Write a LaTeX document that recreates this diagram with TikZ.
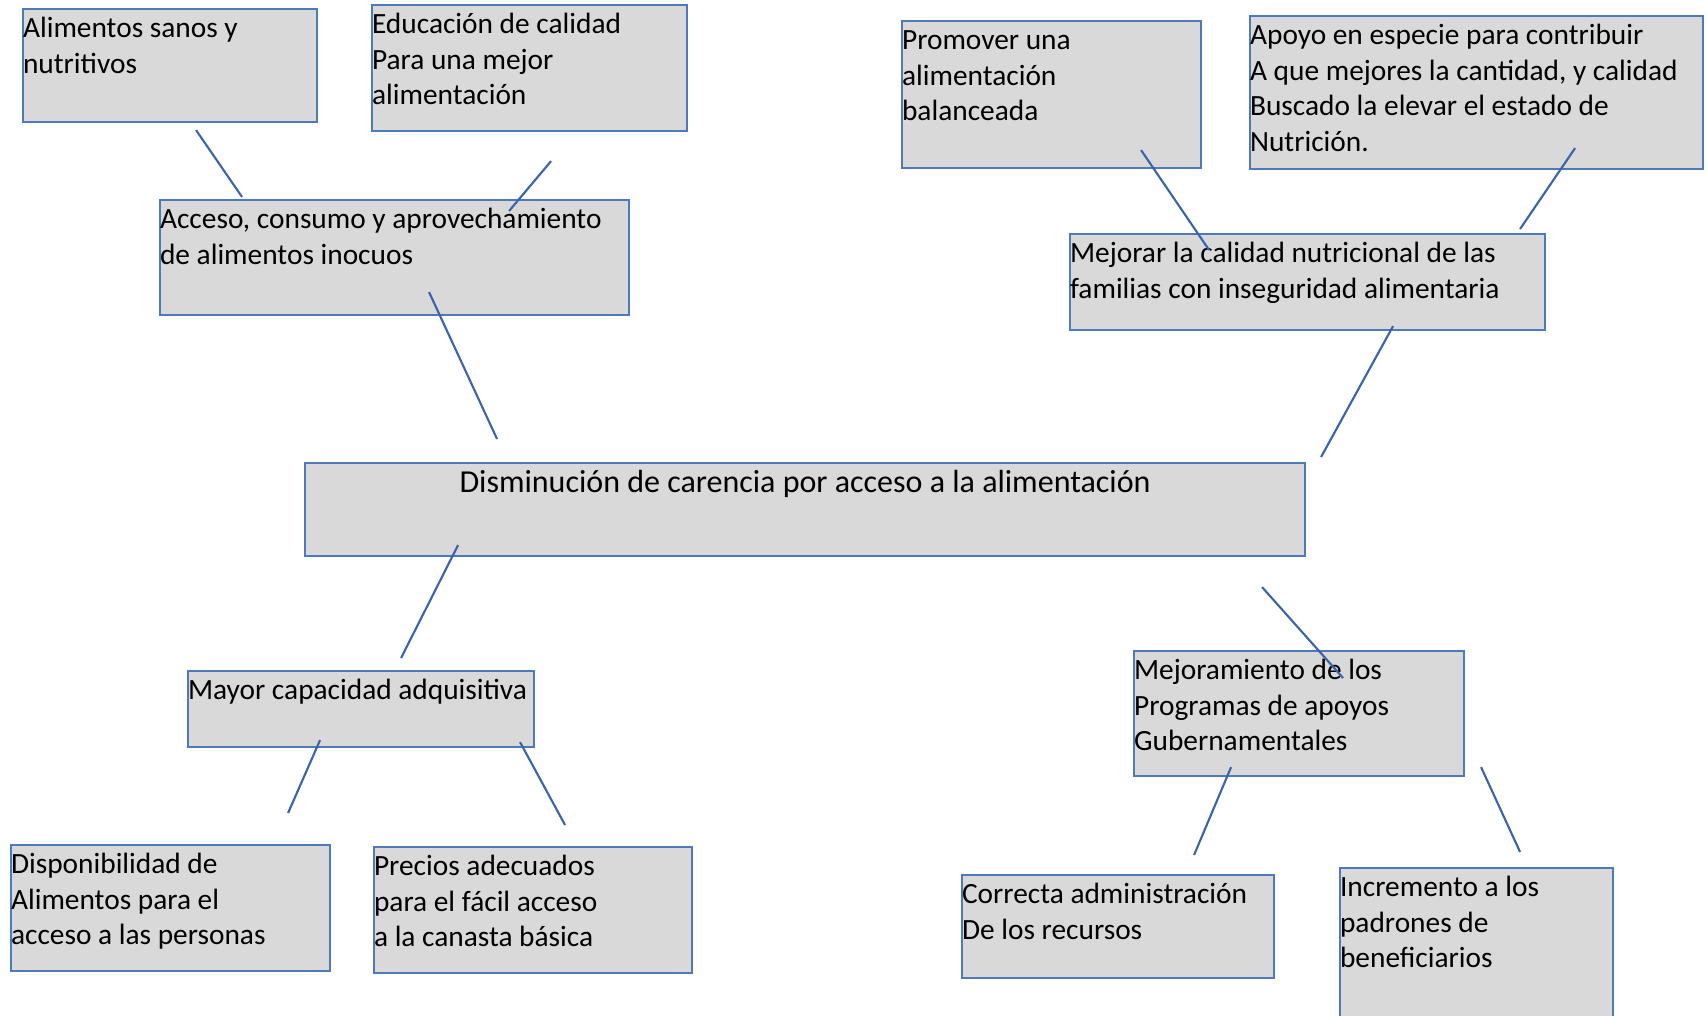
\documentclass[tikz,border=0pt]{standalone}
\usepackage{fontspec}
\setmainfont{Carlito}
\usepackage{xcolor}
\usepackage{tikz}
\usetikzlibrary{calc}

\definecolor{boxfill}{HTML}{D9D9D9}
\definecolor{boxline}{HTML}{4F79BD}
\definecolor{linkblue}{HTML}{3A64A8}

\newlength\pxu
\setlength\pxu{0.01cm}
% text box: width, height (in px), text
\newcommand{\boxtext}[3]{\parbox[t][#2\pxu][t]{#1\pxu}{\raggedright\rule{0pt}{8pt}#3}}
\newcommand{\boxtextc}[3]{\parbox[t][#2\pxu][t]{#1\pxu}{\centering\rule{0pt}{8.4pt}#3}}

\tikzset{
  box/.style={draw=boxline, fill=boxfill, line width=0.6pt, anchor=north west,
    inner sep=0pt, font=\fontsize{8.35}{10.2}\selectfont},
  link/.style={draw=linkblue, line width=0.6pt}
}

\begin{document}
\begin{tikzpicture}[x=0.01cm, y=-0.01cm]
  \path[use as bounding box, fill=white] (0,0) rectangle (1707,1015);
  \clip (0,0) rectangle (1707,1015);

  % upper left
  \node (alim) at (22,8) [box] {\boxtext{294}{113}{Alimentos sanos y\\nutritivos}};
  \node (educ) at (371,4) [box] {\boxtext{315}{126}{Educación de calidad\\Para una mejor\\alimentación}};
  \node (acceso) at (159,199) [box] {\boxtext{469}{115}{Acceso, consumo y aprovechamiento\\de alimentos inocuos}};

  % upper right
  \node (promover) at (901,20) [box] {\boxtext{299}{147}{Promover una\\alimentación\\balanceada}};
  \node (apoyo) at (1249,15) [box] {\boxtext{453}{153}{Apoyo en especie para contribuir\\A que mejores la cantidad, y calidad\\Buscado la elevar el estado de\\Nutrición.}};
  \node (mejorar) at (1069,233) [box] {\boxtext{475}{96}{Mejorar la calidad nutricional de las\\familias con inseguridad alimentaria}};

  % centre
  \node (dismin) at (304,462) [box, font=\fontsize{9.1}{11.1}\selectfont] {\boxtextc{1000}{93}{Disminución de carencia por acceso a la alimentación}};

  % lower left
  \node (mayor) at (187,670) [box] {\boxtext{346}{76}{Mayor capacidad adquisitiva}};
  \node (dispon) at (10,844) [box] {\boxtext{319}{126}{Disponibilidad de\\Alimentos para el\\acceso a las personas}};
  \node (precios) at (373,846) [box] {\boxtext{318}{126}{Precios adecuados\\para el fácil acceso\\a la canasta básica}};

  % lower right
  \node (programas) at (1133,650) [box] {\boxtext{330}{125}{Mejoramiento de los\\Programas de apoyos\\Gubernamentales}};
  \node (correcta) at (961,874) [box] {\boxtext{312}{103}{Correcta administración\\De los recursos}};
  \node (incremento) at (1339,867) [box] {\boxtext{273}{160}{Incremento a los\\padrones de\\beneficiarios}};

  % connectors
  \draw[link] ($(alim.south)+(26,7)$) -- ($(acceso.north)+(-152.5,-2)$);
  \draw[link] ($(educ.south)+(21.5,29)$) -- ($(acceso.north)+(114.5,12)$);
  \draw[link] ($(acceso.south)+(34.5,-24)$) -- ($(dismin.north)+(-308,-23)$);
  \draw[link] ($(promover.south)+(89.5,-19)$) -- ($(mejorar.north)+(-98.5,17)$);
  \draw[link] ($(apoyo.south)+(98.5,-22)$) -- ($(mejorar.north)+(212.5,-4)$);
  \draw[link] ($(mejorar.south)+(85.5,-5)$) -- ($(dismin.north)+(516,-5)$);
  \draw[link] ($(dismin.south)+(-347,-12)$) -- ($(mayor.north)+(40,-12)$);
  \draw[link] ($(dismin.south)+(457,30)$) -- ($(programas.north)+(44,28)$);
  \draw[link] ($(mayor.south)+(-41,-8)$) -- ($(dispon.north)+(117.5,-31)$);
  \draw[link] ($(mayor.south)+(159,-6)$) -- ($(precios.north)+(32,-21)$);
  \draw[link] ($(programas.south)+(-68,-10)$) -- ($(correcta.north)+(76,-19)$);
  \draw[link] ($(programas.south)+(182,-10)$) -- ($(incremento.north)+(43.5,-15)$);
\end{tikzpicture}
\end{document}
